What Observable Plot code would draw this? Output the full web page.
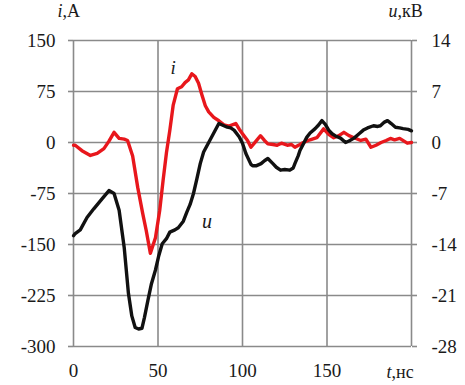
<!DOCTYPE html>
<html>
<head>
<meta charset="utf-8">
<script src="https://cdn.jsdelivr.net/npm/d3@7"></script>
<script src="https://cdn.jsdelivr.net/npm/@observablehq/plot@0.6"></script>
<style>
  html, body { margin: 0; padding: 0; background: #fff; }
</style>
</head>
<body>
<div id="chart"></div>
<script>
// current i (A) vs time t (ns)
const iSeries = [[0,-4],[1,-4],[5,-12],[10,-19],[14,-16],[18,-9],[21,2],[24,15],[27,6],[30,5],[32,3],[35,-20],[38,-66],[41,-105],[43,-129],[45.5,-163],[48.5,-140],[51,-100],[53,-56],[55,-15],[57,18],[59,55],[61.5,79],[64,82],[66,88],[68,92],[70,101],[72,97],[74,87],[76,70],[78,54],[80,45],[83,37],[86,32],[89,26],[92,24],[96,28],[98,20],[100,13],[103,3],[105,-7],[108,2],[110.6,10],[113,3],[115,-2],[118,-3],[120.5,-4],[123,-1],[126.5,-4],[129,-3],[131,-7],[134,-3],[136,0],[140,4],[144,7],[148,20],[151,12],[154,7],[157,10],[160,15],[163,10],[166,7],[170,3],[173,5],[176,-7],[179,-4],[182,0],[185,3],[187.5,6],[190,4],[193,6],[197.5,-1],[200,0]];
// voltage u (kV) vs time t (ns)
const uSeries = [[0,-12.8],[1,-12.5],[4,-12.0],[8,-10.3],[12,-9.1],[17,-7.7],[21,-6.6],[24,-7.0],[27,-9.3],[30,-14.4],[32.5,-20.7],[34.5,-23.8],[36.5,-25.4],[38.5,-25.6],[40.5,-25.5],[42,-24],[44,-21.7],[46,-19.5],[48.5,-17.5],[50.5,-15.5],[52.5,-13.9],[55,-13.2],[57,-12.3],[60,-12.0],[62,-11.7],[65,-10.8],[67,-9.6],[69,-8.5],[71,-7.0],[73,-5],[75,-2.9],[77,-1.3],[80,0],[83,1.3],[86,2.6],[88,2.4],[91,2.1],[93,2.0],[95,1.7],[98,0.8],[100,-0.1],[102,-1.5],[105,-3.0],[106,-3.2],[108,-3.2],[111,-2.9],[113,-2.5],[115,-2.2],[118,-2.9],[120,-3.4],[122.5,-3.8],[125,-3.7],[128,-3.8],[130,-3.5],[131,-2.9],[133,-1.8],[134,-1.1],[136,-0.2],[138,0.7],[140,1.3],[143,1.9],[145,2.4],[147,3.0],[149,2.5],[151,1.7],[153,1.2],[155,0.9],[158,0.6],[161,0],[163,0.2],[166,0.6],[169,1.2],[171.5,1.7],[174,2.0],[177.5,2.3],[180,2.2],[181.6,2.3],[184,2.8],[185.8,3.0],[188,2.6],[190.5,2.1],[193,2.0],[195,1.9],[198,1.8],[200,1.6]];

const xTicks = [0, 50, 100, 150];
const xGrid = [0, 50, 100, 150, 200];
const iTicks = [-300, -225, -150, -75, 0, 75, 150];
const uTicks = [-28, -21, -14, -7, 0, 7, 14];
const uToA = 150 / 14; // right axis maps 14 kV onto 150 A

const grid = "#8a8a8a";
const font = "Liberation Serif";

const chart = Plot.plot({
  width: 465,
  height: 385,
  marginLeft: 73,
  marginRight: 54,
  marginTop: 40,
  marginBottom: 39,
  x: { domain: [0, 200] },
  y: { domain: [-300, 150] },
  marks: [
    Plot.ruleY(iTicks, { stroke: grid, strokeWidth: 1.6 }),
    Plot.ruleX(xGrid, { stroke: grid, strokeWidth: 1.6 }),
    Plot.axisY(iTicks, { anchor: "left", tickSize: 5, tickPadding: 13, stroke: grid, strokeWidth: 1.6, tickFormat: d => String(d), label: null, fontSize: 19, fontFamily: font }),
    Plot.axisY(uTicks.map(v => v * uToA), { anchor: "right", tickSize: 5, tickPadding: 15, stroke: grid, strokeWidth: 1.6, tickFormat: d => String(Math.round(d / uToA)), label: null, fontSize: 19, fontFamily: font }),
    Plot.axisX(xTicks, { anchor: "bottom", tickSize: 0, tickPadding: 17, tickFormat: d => String(d), label: null, fontSize: 19, fontFamily: font }),
    Plot.line(iSeries, { x: d => d[0], y: d => d[1], stroke: "#e8171c", strokeWidth: 3.4, curve: "linear" }),
    Plot.line(uSeries, { x: d => d[0], y: d => d[1] * uToA, stroke: "#111", strokeWidth: 3.4, curve: "linear" }),
    // curve labels
    Plot.text(["i"], { x: 59, y: 101, text: d => d, fontStyle: "italic", fontSize: 19, fontFamily: font, textAnchor: "middle", lineAnchor: "bottom" }),
    Plot.text(["u"], { x: 79, y: -126, text: d => d, fontStyle: "italic", fontSize: 20, fontFamily: font, textAnchor: "middle", lineAnchor: "bottom" }),
    // axis titles
    Plot.text(["i"], { frameAnchor: "top-left", dx: -11, dy: -24, text: d => d, fontStyle: "italic", fontSize: 18, fontFamily: font, textAnchor: "end", lineAnchor: "bottom" }),
    Plot.text([",A"], { frameAnchor: "top-left", dx: -11, dy: -24, text: d => d, fontSize: 18, fontFamily: font, textAnchor: "start", lineAnchor: "bottom" }),
    Plot.text(["u"], { frameAnchor: "top-right", dx: -14, dy: -24, text: d => d, fontStyle: "italic", fontSize: 18, fontFamily: font, textAnchor: "end", lineAnchor: "bottom" }),
    Plot.text([",кВ"], { frameAnchor: "top-right", dx: -14, dy: -24, text: d => d, fontSize: 18, fontFamily: font, textAnchor: "start", lineAnchor: "bottom" }),
    Plot.text(["t"], { x: 200, frameAnchor: "bottom", dx: -20, dy: 26, text: d => d, fontStyle: "italic", fontSize: 18, fontFamily: font, textAnchor: "end", lineAnchor: "middle" }),
    Plot.text([",нс"], { x: 200, frameAnchor: "bottom", dx: -20, dy: 26, text: d => d, fontSize: 18, fontFamily: font, textAnchor: "start", lineAnchor: "middle" })
  ]
});
d3.select(chart).attr("font-family", font).style("background", "#fff");
d3.select(chart).selectAll("g").attr("font-family", font);
d3.select(chart).selectAll("text").attr("font-family", font).attr("fill", "#1a1a1a");
document.getElementById("chart").appendChild(chart);
</script>
</body>
</html>
